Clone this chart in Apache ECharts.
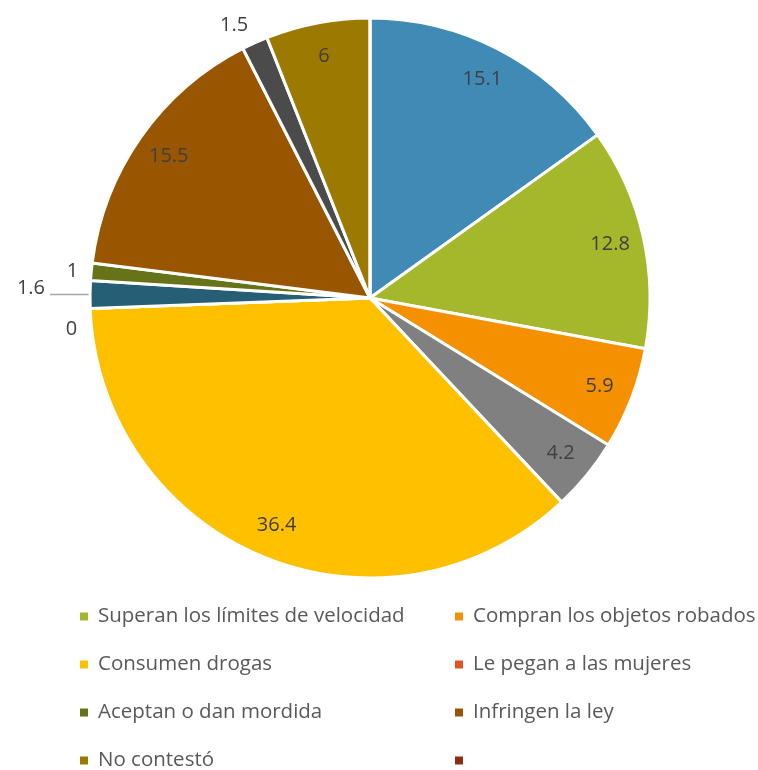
<!DOCTYPE html>
<html>
<head>
<meta charset="utf-8">
<script src="https://cdn.jsdelivr.net/npm/echarts@6/dist/echarts.min.js"></script>
<style>
  html, body { margin: 0; padding: 0; background: #fff; }
  #main { width: 758px; height: 770px; }
</style>
</head>
<body>
<div id="main"></div>
<script>
// categorias en el orden del pastel (sentido horario desde arriba)
const categories = [
  'Otra respuesta A',
  'Superan los límites de velocidad',
  'Compran los objetos robados',
  'Otra respuesta B',
  'Consumen drogas',
  'Le pegan a las mujeres',
  'Otra respuesta C',
  'Aceptan o dan mordida',
  'Infringen la ley',
  'Otra respuesta D',
  'No contestó',
  ' '
]
const values = [15.1, 12.8, 5.9, 4.2, 36.4, 0, 1.6, 1, 15.5, 1.5, 6, 0]
const colors = ['#3F8BB5', '#A5B72B', '#F59100', '#808080', '#FFC000', '#E05426',
  '#265E76', '#667318', '#985600', '#4B4B4B', '#9C7900', '#8C2D17']
// etiquetas que van fuera del pastel
const outsideLabels = [5, 6, 7, 9]
const hiddenLabels = [11]

const legendLeft = ['Superan los límites de velocidad', 'Consumen drogas', 'Aceptan o dan mordida', 'No contestó']
const legendRight = ['Compran los objetos robados', 'Le pegan a las mujeres', 'Infringen la ley', ' ']

const labelFont = 'Open Sans, sans-serif'

let myChart = echarts.init(document.getElementById('main'))

const mainData = categories.map((name, i) => {
  const item = { name, value: values[i], itemStyle: { color: colors[i] } }
  if (outsideLabels.includes(i)) {
    item.label = { show: true }
    // solo la de 1.6 lleva linea guia
    item.labelLine = i === 6
      ? { show: true, length: 6, length2: 34 }
      : { show: false, length: 4, length2: 4 }
  }
  return item
})

const innerData = categories.map((name, i) => ({
  name,
  value: values[i],
  label: { show: !outsideLabels.includes(i) && !hiddenLabels.includes(i) }
}))

const legendStyle = {
  orient: 'vertical',
  top: 606,
  height: 180,
  padding: 0,
  icon: 'rect',
  itemWidth: 10,
  itemHeight: 10,
  itemGap: 27,
  selectedMode: false,
  textStyle: { color: '#595959', fontSize: 20.5, fontFamily: labelFont, padding: [0, 0, 0, 4] }
}

myChart.setOption({
  animation: false,
  color: colors,
  legend: [
    Object.assign({ left: 78, data: legendLeft }, legendStyle),
    Object.assign({ left: 453, data: legendRight }, legendStyle)
  ],
  series: [
    {
      type: 'pie',
      center: [370, 298],
      radius: [0, 280],
      startAngle: 90,
      clockwise: true,
      avoidLabelOverlap: false,
      itemStyle: { borderColor: '#fff', borderWidth: 3 },
      label: {
        show: false,
        position: 'outside',
        formatter: '{c}',
        color: '#404040',
        fontSize: 20,
        fontFamily: labelFont
      },
      labelLine: { show: false, smooth: false, lineStyle: { color: '#A6A6A6', width: 1.5 } },
      labelLayout: function (p) {
        // ajustes finos como en el original
        if (p.dataIndex === 5) return { dy: 21 }
        if (p.dataIndex === 6) return { dy: -6 }
        if (p.dataIndex === 9) return { dy: -14, dx: 4 }
        return {}
      },
      data: mainData
    },
    {
      // serie invisible solo para colocar las etiquetas cerca del borde
      type: 'pie',
      center: [370, 298],
      radius: [206, 280],
      startAngle: 90,
      clockwise: true,
      silent: true,
      itemStyle: { color: 'rgba(0,0,0,0)', borderWidth: 0 },
      label: {
        position: 'inside',
        formatter: '{c}',
        color: '#404040',
        fontSize: 20,
        fontFamily: labelFont
      },
      data: innerData
    }
  ]
})
</script>
</body>
</html>
